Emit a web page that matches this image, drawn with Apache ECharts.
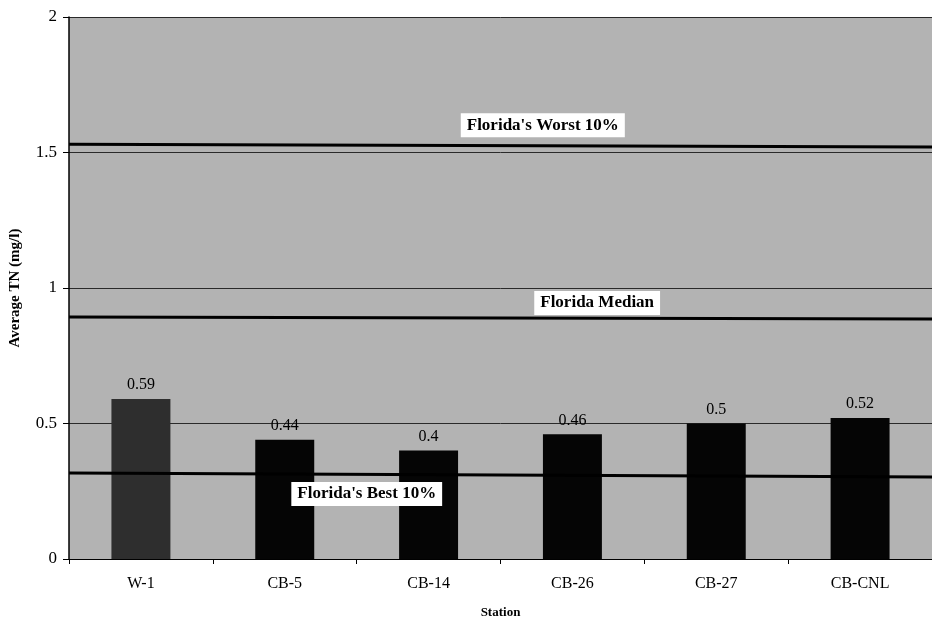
<!DOCTYPE html>
<html><head><meta charset="utf-8">
<script src="https://cdn.jsdelivr.net/npm/echarts@6/dist/echarts.min.js"></script>
<style>html,body{margin:0;padding:0;background:#fff}#c{width:932px;height:621px}</style>
</head><body><div id="c"></div>
<script>
var stations = ['W-1','CB-5','CB-14','CB-26','CB-27','CB-CNL'];
var avgTN = [0.59,0.44,0.4,0.46,0.5,0.52];
var yTicks = [0,0.5,1,1.5,2];
var worst10 = [[0,1.53],[1,1.52]];
var median = [[0,0.893],[1,0.886]];
var best10 = [[0,0.317],[1,0.303]];
var refLabels = [
  {name:"Florida's Worst 10%", pos:[0.549,1.601]},
  {name:"Florida Median", pos:[0.612,0.945]},
  {name:"Florida's Best 10%", pos:[0.345,0.24]}
];
var serif = '"Liberation Serif","Times New Roman",serif';
var chart = echarts.init(document.getElementById('c'));
chart.setOption({
  animation:false,
  backgroundColor:'#fff',
  grid:{left:69,top:17,right:0,bottom:62,show:true,backgroundColor:'#b3b3b3',borderWidth:0,
        containLabel:false,outerBoundsMode:'none'},
  xAxis:[{
    type:'category', data:stations, boundaryGap:true,
    axisLine:{lineStyle:{color:'#000',width:1}},
    axisTick:{show:true,length:5,lineStyle:{color:'#000'}},
    axisLabel:{color:'#000',fontFamily:serif,fontSize:16,margin:17},
    name:'Station', nameLocation:'middle', nameGap:47,
    nameTextStyle:{color:'#000',fontFamily:serif,fontSize:13,fontWeight:'bold'}
  },{
    type:'value', min:0, max:1, show:false
  }],
  yAxis:{
    type:'value', min:0, max:2, interval:0.5,
    axisLine:{show:true,lineStyle:{color:'#000',width:1.5}},
    axisTick:{show:true,length:6,lineStyle:{color:'#000'}},
    axisLabel:{color:'#000',fontFamily:serif,fontSize:17,margin:12,
      formatter:function(v){return yTicks.indexOf(v)>=0?String(v):'';}},
    splitLine:{show:true,lineStyle:{color:'#2a2a2a',width:1}},
    name:'Average TN (mg/l)', nameLocation:'middle', nameGap:46, nameRotate:90,
    nameTextStyle:{color:'#000',fontFamily:serif,fontSize:15,fontWeight:'bold'}
  },
  series:[
    {type:'bar', data:avgTN.map(function(v,i){return {value:v,itemStyle:{color:i===0?'#2e2e2e':'#050505'}};}),
     barWidth:'41%',
     label:{show:true,position:'top',distance:6,color:'#000',fontFamily:serif,fontSize:16}},
    {type:'line', xAxisIndex:1, data:worst10, symbol:'none', lineStyle:{color:'#000',width:3}, z:3},
    {type:'line', xAxisIndex:1, data:median, symbol:'none', lineStyle:{color:'#000',width:3}, z:3},
    {type:'line', xAxisIndex:1, data:best10, symbol:'none', lineStyle:{color:'#000',width:3}, z:3},
    {type:'scatter', xAxisIndex:1, symbolSize:0, z:5, itemStyle:{opacity:1},
     data:refLabels.map(function(d){return {name:d.name,value:d.pos};}),
     label:{show:true,position:'inside',formatter:'{b}',color:'#000',fontFamily:serif,fontSize:17,fontWeight:'bold',
       backgroundColor:'#ffffff',opacity:1,padding:[4,6,3,6]}}
  ]
});
</script></body></html>
